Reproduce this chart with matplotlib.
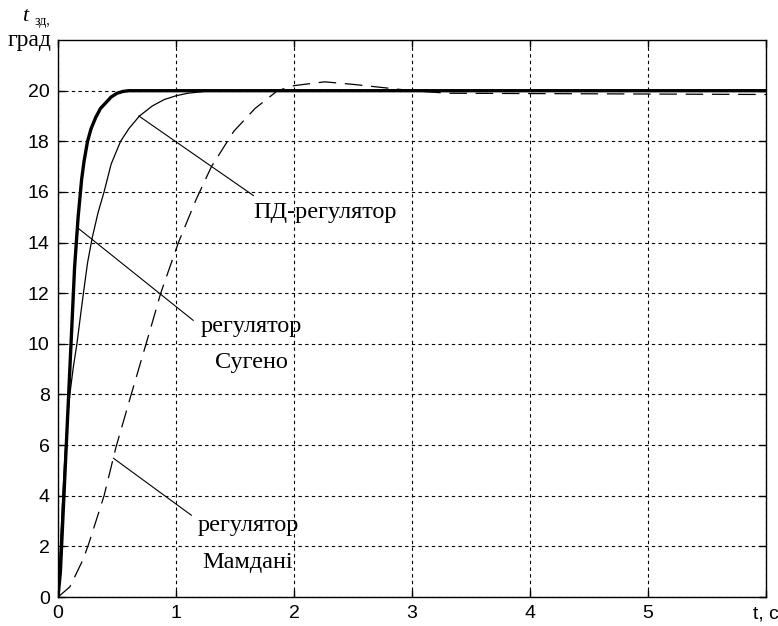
import matplotlib
matplotlib.use("Agg")
import matplotlib.pyplot as plt

# ======================
# DATA
# ======================

# Sugeno fuzzy controller (thick solid line)
sugeno_t = [0.0, 0.02, 0.05, 0.08, 0.11, 0.14, 0.17, 0.20, 0.22, 0.25, 0.28, 0.32,
            0.36, 0.40, 0.45, 0.50, 0.55, 0.60, 6.0]
sugeno_y = [0.0, 1.0, 4.0, 7.0, 10.0, 13.0, 15.0, 16.5, 17.2, 18.0, 18.5, 18.95,
            19.3, 19.5, 19.75, 19.9, 19.97, 20.0, 20.0]

# PD controller (thin solid line)
pd_t = [0.0, 0.02, 0.04, 0.06, 0.08, 0.10, 0.13, 0.16, 0.19, 0.215, 0.25, 0.29, 0.34,
        0.39, 0.45, 0.53, 0.60, 0.69, 0.80, 0.90, 1.0, 1.1, 1.3, 6.0]
pd_y = [0.0, 2.0, 4.0, 5.7, 7.0, 8.0, 9.1, 10.0, 11.1, 12.0, 13.2, 14.2, 15.2,
        16.0, 17.1, 18.0, 18.5, 19.0, 19.4, 19.65, 19.8, 19.9, 20.0, 20.0]

# Mamdani fuzzy controller (dashed line)
mamdani_t = [0.0, 0.10, 0.21, 0.26, 0.39, 0.49, 0.62, 0.79, 0.87, 1.02, 1.17, 1.30, 1.49,
             1.67, 1.86, 2.0, 2.26, 2.5, 2.8, 3.0, 3.3, 6.0]
mamdani_y = [0.0, 0.4, 1.46, 2.1, 4.0, 5.9, 8.0, 10.7, 12.0, 14.0, 15.7, 17.0, 18.4,
             19.3, 20.0, 20.2, 20.35, 20.25, 20.1, 20.0, 19.9, 19.85]

x_ticks = [0, 1, 2, 3, 4, 5, 6]
x_tick_labels = ["0", "1", "2", "3", "4", "5", "t, c"]
y_ticks = [0, 2, 4, 6, 8, 10, 12, 14, 16, 18, 20]
y_tick_labels = ["0", "2", "4", "6", "8", "10", "12", "14", "16", "18", "20"]

# leader lines: (point on curve, end near the label)
leaders = [
    ((0.685, 19.0), (1.655, 15.86)),
    ((0.175, 14.55), (1.145, 10.93)),
    ((0.47, 5.48), (1.13, 3.23)),
]

# ======================
# PLOTTING
# ======================

fig = plt.figure(figsize=(7.78, 6.26), dpi=100)
ax = fig.add_axes([0.0746, 0.0463, 0.91, 0.8897])

ax.plot(mamdani_t, mamdani_y, color="black", linewidth=0.9, dashes=(14, 7))
ax.plot(pd_t, pd_y, color="black", linewidth=0.9)
ax.plot(sugeno_t, sugeno_y, color="black", linewidth=2.4)

ax.set_xlim(0, 6)
ax.set_ylim(0, 22)
ax.set_xticks(x_ticks)
ax.set_xticklabels(x_tick_labels)
ax.set_yticks(y_ticks)
ax.set_yticklabels(y_tick_labels)

ax.grid(True, color="black", linestyle=(0, (3, 3)), linewidth=0.8)
ax.tick_params(direction="in", length=5, width=1, top=True, right=True,
               labelsize=14, pad=6)
for lab in ax.get_xticklabels() + ax.get_yticklabels():
    lab.set_family("Liberation Sans")
for spine in ax.spines.values():
    spine.set_linewidth(1.0)

for (px, py), (tx, ty) in leaders:
    ax.plot([px, tx], [py, ty], color="black", linewidth=0.8)

serif = "Liberation Serif"
fs = 17.5
ax.text(1.655, 15.2, "ПД-регулятор", family=serif, fontsize=fs, ha="left", va="center")
ax.text(1.64, 10.7, "регулятор", family=serif, fontsize=fs, ha="center", va="center")
ax.text(1.64, 9.27, "Сугено", family=serif, fontsize=fs, ha="center", va="center")
ax.text(1.61, 2.84, "регулятор", family=serif, fontsize=fs, ha="center", va="center")
ax.text(1.61, 1.38, "Мамдані", family=serif, fontsize=fs, ha="center", va="center")

# y-axis label in the top left corner
fig.text(0.032, 0.974, "t", family=serif, style="italic", fontsize=16,
         ha="center", va="center")
fig.text(0.045, 0.965, "зд,", family=serif, fontsize=10, ha="left", va="center")
fig.text(0.038, 0.935, "град", family=serif, fontsize=17, ha="center", va="center")

fig.savefig("out.png", dpi=100)
